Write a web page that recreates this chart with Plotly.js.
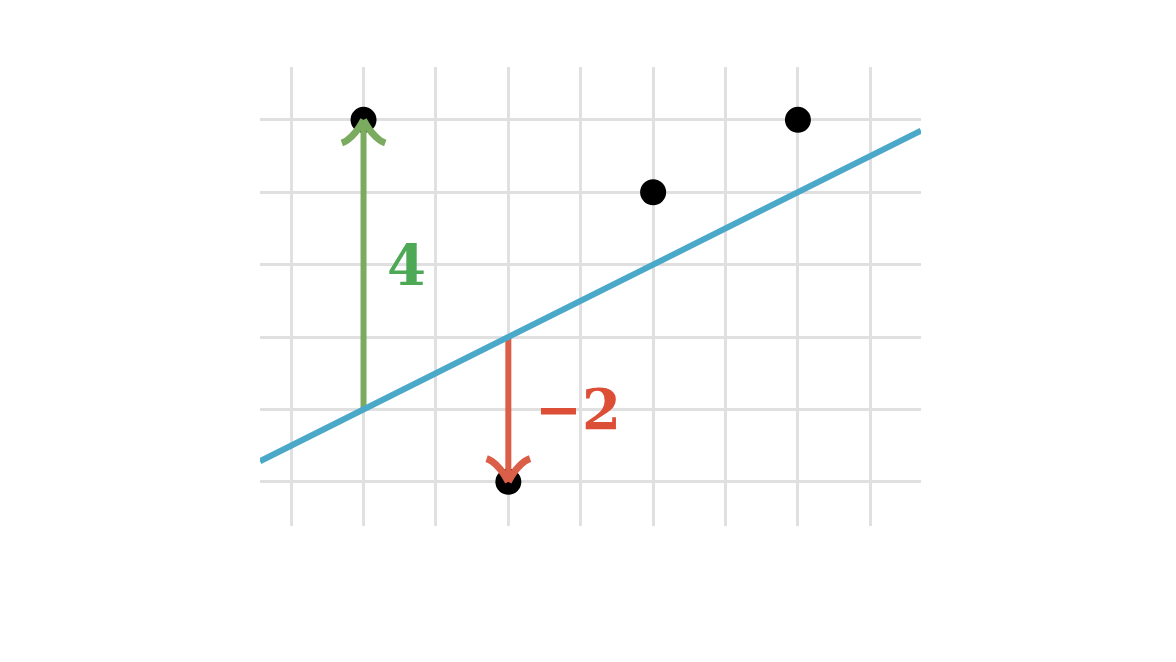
<!DOCTYPE html>
<html>
<head>
<meta charset="utf-8">
<script src="https://cdn.plot.ly/plotly-3.0.1.min.js"></script>
<style>html,body{margin:0;padding:0;background:#fff;}#chart{width:1176px;height:662px;}</style>
</head>
<body>
<div id="chart"></div>
<script>
// Data points
var pointX = [1, 3, 5, 7];
var pointY = [5, 0, 4, 5];
// Fitted line y = slope * x + intercept
var slope = 0.5;
var intercept = 0.5;
// Residuals shown with arrows (indices into points)
var residualIdx = [0, 1];
var residualLabels = ['4', '\u22122'];
var residualColors = ['#7bab5f', '#da5e48'];
var labelColors = ['#4ea957', '#dc4f36'];

var xRange = [-0.43, 8.70];
var yRange = [-0.61, 5.73];

var traces = [];
traces.push({
  x: pointX, y: pointY, mode: 'markers', type: 'scatter',
  marker: {color: '#000', size: 26}, hoverinfo: 'skip'
});

var annotations = [];
var headDx = 0.30, headDy = 0.32;
residualIdx.forEach(function (i, k) {
  var px = pointX[i], py = pointY[i];
  var ly = slope * px + intercept;
  var dir = py > ly ? 1 : -1;
  var col = residualColors[k];
  traces.push({
    x: [px, px], y: [ly, py - dir * 0.04], mode: 'lines', type: 'scatter',
    line: {color: col, width: 6}, hoverinfo: 'skip'
  });
  [-1, 1].forEach(function (s) {
    traces.push({
      x: [px, px + s * headDx * 0.38, px + s * headDx * 0.75, px + s * headDx],
      y: [py, py - dir * headDy * 0.55, py - dir * headDy * 0.88, py - dir * headDy],
      mode: 'lines', type: 'scatter',
      line: {color: col, width: 7, shape: 'spline', smoothing: 1.3}, hoverinfo: 'skip'
    });
  });
  annotations.push({
    x: px, y: (py + ly) / 2, xref: 'x', yref: 'y',
    text: '<b>' + residualLabels[k] + '</b>', showarrow: false,
    xshift: k === 0 ? 43 : 70,
    font: {family: 'DejaVu Serif', size: 56, color: labelColors[k]}
  });
});

traces.push({
  x: xRange, y: xRange.map(function (v) { return slope * v + intercept; }),
  mode: 'lines', type: 'scatter',
  line: {color: '#4aa9c9', width: 6}, hoverinfo: 'skip'
});

var layout = {
  width: 1176, height: 662,
  margin: {l: 260, r: 255, t: 67, b: 136, pad: 0},
  paper_bgcolor: '#fff', plot_bgcolor: '#fff',
  showlegend: false,
  xaxis: {range: xRange, tick0: 0, dtick: 1, showticklabels: false, ticks: '',
          showgrid: true, gridcolor: '#e0e0e0', gridwidth: 3, zeroline: false, showline: false, fixedrange: true},
  yaxis: {range: yRange, tick0: 0, dtick: 1, showticklabels: false, ticks: '',
          showgrid: true, gridcolor: '#e0e0e0', gridwidth: 3, zeroline: false, showline: false, fixedrange: true},
  annotations: annotations
};

Plotly.newPlot('chart', traces, layout, {staticPlot: true, displayModeBar: false});
</script>
</body>
</html>
